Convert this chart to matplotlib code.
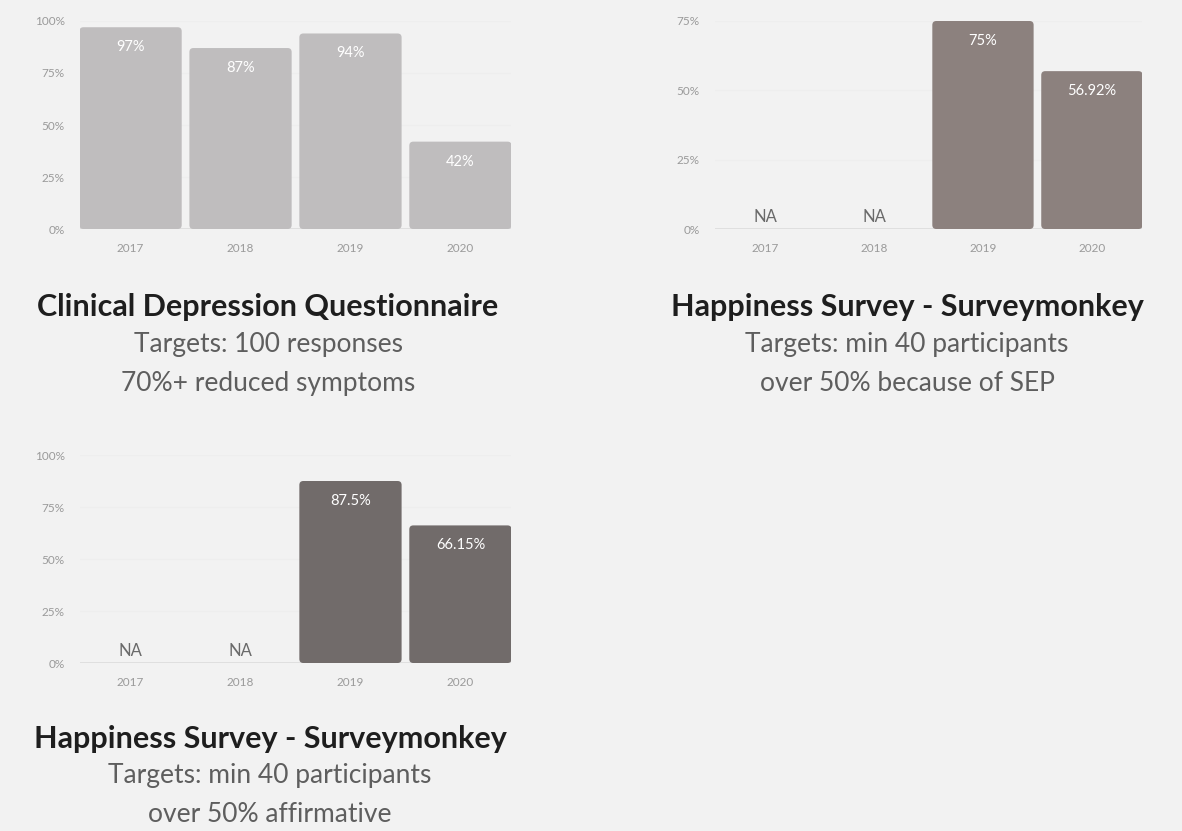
import matplotlib
matplotlib.use("Agg")
import matplotlib.pyplot as plt
from matplotlib.patches import FancyBboxPatch

plt.rcParams['font.family'] = ['Lato', 'DejaVu Sans']

years = ["2017", "2018", "2019", "2020"]

depression_values = [97, 87, 94, 42]
depression_labels = ["97%", "87%", "94%", "42%"]

sep_values = [None, None, 75, 56.92]
sep_labels = ["NA", "NA", "75%", "56.92%"]

affirm_values = [None, None, 87.5, 66.15]
affirm_labels = ["NA", "NA", "87.5%", "66.15%"]

depression_title = "Clinical Depression Questionnaire"
depression_sub = ["Targets: 100 responses", "70%+ reduced symptoms"]
sep_title = "Happiness Survey - Surveymonkey"
sep_sub = ["Targets: min 40 participants", "over 50% because of SEP"]
affirm_title = "Happiness Survey - Surveymonkey"
affirm_sub = ["Targets: min 40 participants", "over 50% affirmative"]

BG = "#f2f2f2"
W, H = 1182, 831

fig = plt.figure(figsize=(W / 100, H / 100), dpi=100, facecolor=BG)


def px_axes(left, bottom_y0, top_y, width):
    # pixel coordinates (from top-left) -> figure fraction
    return fig.add_axes([left / W, (H - bottom_y0) / H, width / W, (bottom_y0 - top_y) / H])


def panel(ax, values, labels, color, ymax, step_ticks):
    ax.set_facecolor(BG)
    x = range(len(years))
    xmin, xmax = -0.46, 3.46
    ax.set_xlim(xmin, xmax)
    ax.set_ylim(0, ymax)
    ax.set_yticks(step_ticks)
    ax.set_yticklabels([f"{t}%" for t in step_ticks])
    ax.set_xticks(list(x))
    ax.set_xticklabels(years)
    for t in step_ticks[1:]:
        ax.axhline(t, color="#eeeeee", lw=0.8, zorder=0)
    ax.axhline(0, color="#dcdcdc", lw=1.2, zorder=1)
    for s in ax.spines.values():
        s.set_visible(False)
    ax.tick_params(length=0, colors="#9a9a9a", labelsize=8.5)
    ax.tick_params(axis="y", pad=11)
    ax.tick_params(axis="x", pad=10)

    # corner radius of about 4 px expressed in data units
    bbox = ax.get_position()
    w_px = bbox.width * W
    h_px = bbox.height * H
    x_per_px = (xmax - xmin) / w_px
    y_per_px = ymax / h_px
    rad = 4 * x_per_px

    bw = 0.93
    for i, (v, lab) in enumerate(zip(values, labels)):
        if v is None:
            ax.text(i, 4 * y_per_px, lab, ha="center", va="bottom",
                    color="#6a6a6a", fontsize=12)
            continue
        patch = FancyBboxPatch((i - bw / 2, 0), bw, v,
                               boxstyle=f"round,pad=0,rounding_size={rad}",
                               mutation_aspect=y_per_px / x_per_px,
                               facecolor=color, edgecolor="none", zorder=2)
        ax.add_patch(patch)
        ax.text(i, v - 20 * y_per_px, lab, ha="center", va="center",
                color="white", fontsize=10.5, zorder=3)


def titles(cx, y0, title, subs):
    fig.text(cx / W, 1 - y0 / H, title, ha="center", va="center",
             fontsize=22, fontweight="bold", color="#1e1e1e")
    for k, s in enumerate(subs):
        yy = y0 + 37 + k * 39
        fig.text(cx / W, 1 - yy / H, s, ha="center", va="center",
                 fontsize=19, color="#5e5e5e", fontweight="normal")


ax1 = px_axes(80, 229, 21, 431)
panel(ax1, depression_values, depression_labels, "#bfbdbe", 100, [0, 25, 50, 75, 100])
titles(268, 307, depression_title, depression_sub)

ax2 = px_axes(715, 229, 21, 427)
panel(ax2, sep_values, sep_labels, "#8c817e", 75, [0, 25, 50, 75])
titles(907, 307, sep_title, sep_sub)

ax3 = px_axes(80, 663, 455, 431)
panel(ax3, affirm_values, affirm_labels, "#716b6a", 100, [0, 25, 50, 75, 100])
titles(270, 739, affirm_title, affirm_sub)

fig.savefig("out.png", dpi=100, facecolor=BG)
